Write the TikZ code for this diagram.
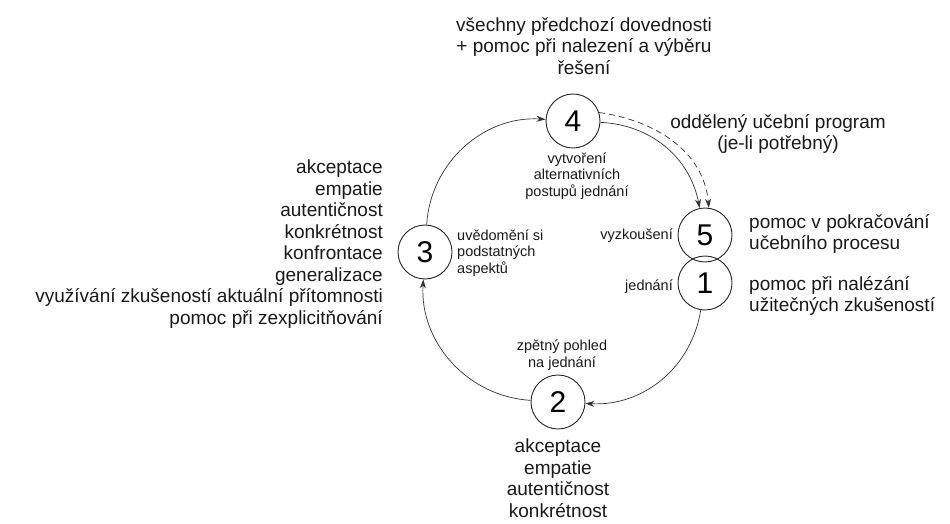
\documentclass[tikz,border=0pt]{standalone}
\usepackage{fontspec}
\setmainfont{Liberation Sans}
\usetikzlibrary{arrows.meta}
\begin{document}
\begin{tikzpicture}[x=1pt,y=1pt,
  stage/.style={circle,draw=black!85,line width=0.9pt,minimum size=54pt,inner sep=0pt,font=\fontsize{30}{30}\selectfont},
  big/.style={font=\fontsize{19}{21.5}\selectfont,inner sep=0pt,text=black!90},
  small/.style={font=\fontsize{14.5}{16.5}\selectfont,inner sep=0pt,text=black!90},
  flow/.style={draw=black!80,line width=0.7pt,-{Stealth[length=9pt,width=6pt]}},
]
\useasboundingbox (0,0) rectangle (950,-524);
% stages
\node[stage] (n4) at (573,-121) {4};
\node[stage] (n1) at (705,-283) {1};
\node[stage] (n5) at (705,-235) {5};
\node[stage] (n3) at (425,-252) {3};
\node[stage] (n2) at (558,-402) {2};
% big labels
\node[big,align=center] (ttop) at (584,-46) {všechny předchozí dovednosti\\+ pomoc při nalezení a výběru\\řešení};
\node[big,align=center] (tsep) at (778,-134) {oddělený učební program\\(je-li potřebný)};
\node[big,align=left,anchor=west] (t5) at (749,-234) {pomoc v pokračování\\učebního procesu};
\node[big,align=left,anchor=west] (t1) at (749,-296) {pomoc při nalézání\\užitečných zkušeností};
\node[big,align=right,anchor=east] (t3) at (383,-244) {akceptace\\empatie\\autentičnost\\konkrétnost\\konfrontace\\generalizace\\využívání zkušeností aktuální přítomnosti\\pomoc při zexplicitňování};
\node[big,align=center] (t2) at (558,-478) {akceptace\\empatie\\autentičnost\\konkrétnost};
% small labels
\node[small,align=center] (s4) at (577,-176) {vytvoření\\alternativních\\postupů jednání};
\node[small,align=left,anchor=west] (s3) at (457,-253) {uvědomění si\\podstatných\\aspektů};
\node[small,anchor=east] (s5) at (673,-236) {vyzkoušení};
\node[small,anchor=east] (s1) at (673,-287) {jednání};
\node[small,align=center] (s2) at (562,-355) {zpětný pohled\\na jednání};
% connectors
\draw[flow] (n3) to[bend left=45] (n4);
\draw[flow] (n4) to[bend left=38] (n5);
\draw[flow,dash pattern=on 6pt off 4pt] (n4.18) to[out=-8,in=95] (n5.82);
\draw[flow] (n1) to[bend left=42] (n2);
\draw[flow] (n2) to[bend left=45] (n3);
\end{tikzpicture}
\end{document}
